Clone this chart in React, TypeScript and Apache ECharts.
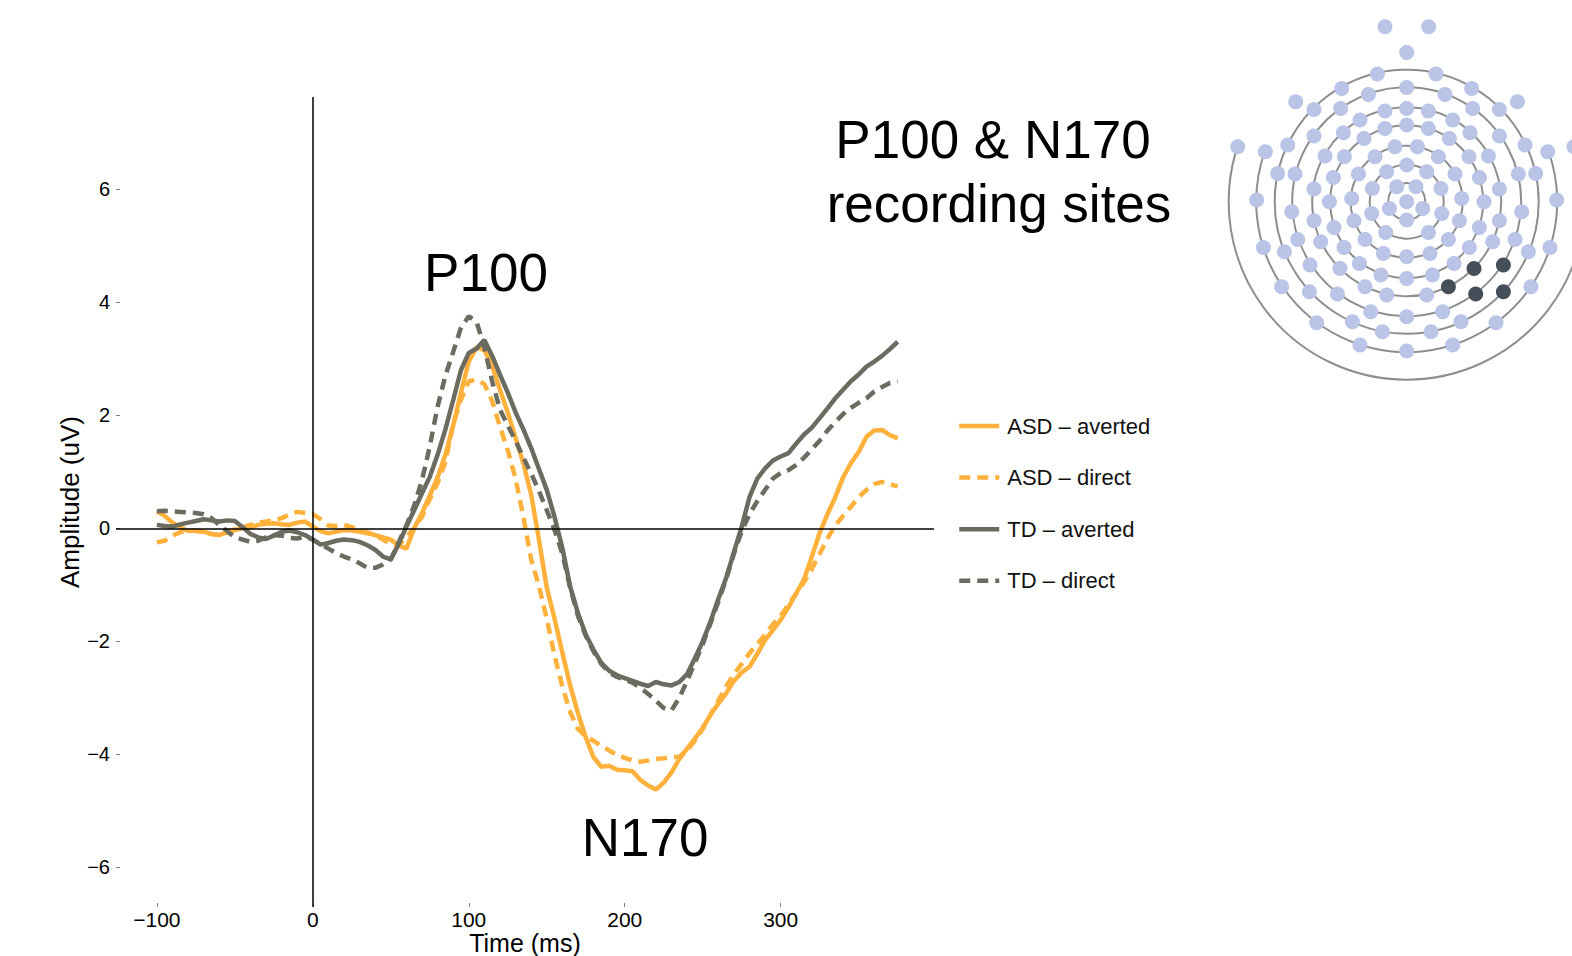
import React, { useEffect, useRef } from 'react';
import * as echarts from 'echarts';

// ---------- DATA ----------
const times = [
  -100, -95, -90, -85, -80, -75, -70, -65, -60, -55, -50, -45, -40, -35, -30, -25, -20, -15, -10, -5,
  0, 5, 10, 15, 20, 25, 30, 35, 40, 45, 50, 55, 60, 65, 70, 75, 80, 85, 90, 95,
  100, 105, 110, 115, 120, 125, 130, 135, 140, 145, 150, 155, 160, 165, 170, 175, 180, 185, 190, 195,
  200, 205, 210, 215, 220, 225, 230, 235, 240, 245, 250, 255, 260, 265, 270, 275, 280, 285, 290, 295,
  300, 305, 310, 315, 320, 325, 330, 335, 340, 345, 350, 355, 360, 365, 370, 375,
];

const asdAverted = [
  0.30, 0.22, 0.10, 0.02, -0.05, -0.04, -0.06, -0.10, -0.12, -0.07, -0.03, 0.00, 0.02, 0.06, 0.08, 0.09, 0.07, 0.06, 0.10, 0.12,
  0.03, -0.05, -0.09, -0.06, -0.03, -0.04, -0.06, -0.09, -0.12, -0.16, -0.20, -0.30, -0.36, 0.00, 0.27, 0.58, 0.90, 1.30, 1.82, 2.40,
  2.95, 3.20, 3.15, 2.88, 2.45, 2.05, 1.60, 1.15, 0.60, -0.20, -1.05, -1.60, -2.20, -2.78, -3.27, -3.70, -4.05, -4.22, -4.20, -4.27,
  -4.28, -4.30, -4.45, -4.55, -4.62, -4.50, -4.32, -4.08, -3.90, -3.72, -3.53, -3.30, -3.10, -2.92, -2.70, -2.55, -2.45, -2.22, -1.98, -1.80,
  -1.62, -1.40, -1.15, -0.90, -0.50, -0.08, 0.25, 0.55, 0.90, 1.15, 1.35, 1.62, 1.73, 1.74, 1.65, 1.59,
];

const asdDirect = [
  -0.25, -0.22, -0.13, -0.07, -0.04, -0.05, -0.07, -0.10, -0.12, -0.07, -0.02, 0.02, 0.06, 0.10, 0.12, 0.14, 0.18, 0.24, 0.29, 0.27,
  0.25, 0.16, 0.05, 0.04, 0.06, 0.02, -0.03, -0.07, -0.12, -0.20, -0.28, -0.30, -0.15, 0.00, 0.20, 0.52, 0.80, 1.17, 1.85, 2.27,
  2.60, 2.63, 2.55, 2.25, 1.80, 1.38, 0.88, 0.20, -0.55, -1.02, -1.60, -2.25, -2.80, -3.25, -3.55, -3.68, -3.76, -3.85, -3.93, -4.01,
  -4.06, -4.11, -4.13, -4.11, -4.08, -4.07, -4.05, -4.04, -3.93, -3.76, -3.55, -3.30, -3.05, -2.80, -2.58, -2.40, -2.21, -2.05, -1.88, -1.70,
  -1.55, -1.35, -1.15, -0.95, -0.72, -0.45, -0.18, 0.05, 0.22, 0.38, 0.55, 0.68, 0.78, 0.82, 0.78, 0.74,
];

const tdAverted = [
  0.06, 0.04, 0.03, 0.07, 0.10, 0.13, 0.16, 0.14, 0.12, 0.14, 0.13, 0.02, -0.10, -0.16, -0.19, -0.13, -0.06, -0.04, -0.07, -0.12,
  -0.20, -0.29, -0.26, -0.22, -0.20, -0.21, -0.24, -0.30, -0.38, -0.50, -0.55, -0.28, 0.03, 0.32, 0.62, 0.91, 1.30, 1.75, 2.27, 2.80,
  3.10, 3.18, 3.33, 3.05, 2.72, 2.40, 2.05, 1.75, 1.42, 1.05, 0.68, 0.20, -0.35, -1.03, -1.50, -1.88, -2.15, -2.38, -2.52, -2.60,
  -2.65, -2.70, -2.75, -2.79, -2.72, -2.76, -2.78, -2.72, -2.58, -2.30, -2.00, -1.65, -1.25, -0.88, -0.42, 0.03, 0.55, 0.88, 1.06, 1.20,
  1.27, 1.33, 1.50, 1.66, 1.78, 1.95, 2.12, 2.30, 2.45, 2.60, 2.72, 2.86, 2.95, 3.05, 3.17, 3.30,
];

const tdDirect = [
  0.30, 0.31, 0.30, 0.29, 0.28, 0.27, 0.25, 0.18, 0.06, -0.05, -0.16, -0.20, -0.24, -0.22, -0.16, -0.12, -0.13, -0.17, -0.18, -0.15,
  -0.20, -0.28, -0.36, -0.44, -0.50, -0.55, -0.62, -0.70, -0.70, -0.64, -0.55, -0.25, 0.05, 0.40, 0.85, 1.45, 2.15, 2.70, 3.12, 3.55,
  3.75, 3.65, 3.20, 2.60, 2.10, 1.82, 1.55, 1.25, 0.97, 0.66, 0.32, -0.03, -0.45, -1.05, -1.55, -1.90, -2.18, -2.40, -2.55, -2.63,
  -2.68, -2.73, -2.82, -2.93, -3.05, -3.18, -3.22, -3.00, -2.70, -2.38, -2.05, -1.68, -1.30, -0.90, -0.45, -0.05, 0.25, 0.48, 0.68, 0.88,
  0.98, 1.03, 1.12, 1.25, 1.40, 1.55, 1.73, 1.88, 2.02, 2.13, 2.22, 2.30, 2.42, 2.50, 2.57, 2.60,
];

const seriesNames = ['ASD – averted', 'ASD – direct', 'TD – averted', 'TD – direct'];
const xTicks = [-100, 0, 100, 200, 300];
const yTicks = [-6, -4, -2, 0, 2, 4, 6];

// electrode positions relative to head centre (px, screen y down)
const electrodeXY = [
  [-21.7, -175], [22, -175], [0, -149.3], [-29.3, -127.7], [29.3, -127.7], [-65, -113.3], [65, -113.3],
  [0, -114.3], [-38.3, -107.3], [38.3, -107.3], [-111, -100], [110.7, -100], [-92.7, -92.3], [92.7, -92.3],
  [-66, -93.3], [66, -93.3], [-21.7, -90.7], [21.7, -90.7], [0, -93.3], [-46.7, -81.7], [46, -81.7],
  [-21.7, -73.3], [21.7, -73.3], [0, -76.7], [-63.3, -69], [63.3, -69], [-92.7, -65.7], [92.7, -65.7],
  [-42.7, -63.3], [42.7, -63.3], [-169, -55], [167.3, -55], [-141.3, -50], [141, -50], [-119, -56.7], [118.3, -56.7],
  [-81.7, -45.7], [81.7, -45.7], [-62.3, -45], [62.3, -45], [-11.7, -55], [10.7, -55], [-31.7, -45], [31.7, -45],
  [0, -36.7], [-20, -30], [20, -30], [-129, -28.3], [129, -28.3], [-111.7, -27.7], [111.7, -27.7],
  [-73.3, -24.3], [72.7, -24.3], [-48.3, -27.7], [48.3, -27.7], [-92.7, -12.7], [92.7, -12.7],
  [-34.3, -13.3], [34.3, -13.3], [-10, -15], [9.3, -15], [-150, -1.7], [150, -1.7], [-115, 10], [115, 10],
  [-77.3, 0], [77.3, 0], [-55, -3.3], [55, -3.3], [-17.3, 6.7], [16, 6.7], [0, 0], [-35, 11.7], [35, 11.7],
  [-92.7, 19], [92.7, 19], [-72.7, 25.7], [72.7, 25.7], [-52.7, 19], [52.7, 19], [0, 18.3], [-21, 30.7], [21.7, 30.7],
  [-143.3, 45.7], [143.3, 45.7], [-109, 37.7], [108.3, 37.7], [-86, 40], [86, 40], [-62.7, 45.7], [62.7, 45.7],
  [-41.7, 37.7], [41.7, 37.7], [-122.3, 50], [121.7, 50], [-23.3, 51.7], [23.3, 51.7], [0, 55],
  [-96.7, 63.3], [-66.7, 66.7], [-47.3, 61.7], [47.3, 61.7], [-25.7, 73.3], [25.7, 73.3], [0, 76.7],
  [-125, 85], [124.3, 85], [-97.3, 90], [-69.3, 92.3], [-41.7, 85], [-20, 93.3], [20, 93.3],
  [-36, 110], [36, 110], [0, 115], [-90, 121], [89.3, 121], [-54.3, 120], [54.3, 120],
  [-24.3, 130], [24.3, 130], [-46.7, 143.3], [46, 143.3], [0, 149.3],
];
const siteXY = [[96.7, 63.3], [67.3, 66.7], [96.7, 90], [69, 92.3], [41.7, 85]];
const ringRadii = [18.5, 37, 56, 76.5, 94.5, 114.5, 132];
const openArcs = [
  { r: 150.5, start: -20, end: 200 },
  { r: 178, start: -16, end: 196 },
];

// ---------- STYLE ----------
const FONT = "'Liberation Sans', Arial, Helvetica, sans-serif";
const ORANGE = '#FFB13B';
const GRAY = '#6B6B60';
const HX = 1406.7;
const HY = 201.7;
const HR = 160;

export default function App() {
  const ref = useRef<HTMLDivElement>(null);

  useEffect(() => {
    document.body.style.margin = '0';
    const chart = echarts.init(ref.current as HTMLDivElement, null, { renderer: 'svg' });
    const pair = (arr: number[]) => times.map((t, i) => [t, arr[i]]);
    const dash = [11, 7];
    const fmt = (v: number) => String(v).replace('-', '\u2212');

    const mkLine = (name: string, data: number[], color: string, dashed: boolean, extra: any = {}) => ({
      name,
      type: 'line',
      xAxisIndex: 0,
      yAxisIndex: 0,
      data: pair(data),
      showSymbol: false,
      symbol: 'none',
      silent: true,
      emphasis: { disabled: true },
      itemStyle: { color },
      lineStyle: { color, width: 4.5, type: dashed ? dash : 'solid', cap: 'butt' },
      z: 3,
      ...extra,
    });

    const graphics: any[] = [];
    ringRadii.forEach((r) => {
      graphics.push({
        type: 'circle',
        shape: { cx: HX, cy: HY, r },
        style: { fill: 'none', stroke: '#8E8E8E', lineWidth: 2 },
        silent: true,
        z: 0,
      });
    });
    openArcs.forEach((a) => {
      graphics.push({
        type: 'arc',
        shape: { cx: HX, cy: HY, r: a.r, startAngle: (a.start * Math.PI) / 180, endAngle: (a.end * Math.PI) / 180, clockwise: true },
        style: { fill: 'none', stroke: '#8E8E8E', lineWidth: 2 },
        silent: true,
        z: 0,
      });
    });
    const txt = (text: string, x: number, y: number, size: number) => ({
      type: 'text',
      x,
      y,
      silent: true,
      style: {
        text,
        fontSize: size,
        fontFamily: FONT,
        fill: '#000',
        textAlign: 'center',
        textVerticalAlign: 'middle',
        align: 'center',
        verticalAlign: 'middle',
      },
    });
    graphics.push(txt('P100', 486, 272, 53));
    graphics.push(txt('N170', 645, 837, 53));
    graphics.push(txt('P100 & N170', 993, 139, 53));
    graphics.push(txt('recording sites', 999, 203, 53));

    chart.setOption({
      animation: false,
      backgroundColor: '#fff',
      textStyle: { fontFamily: FONT },
      grid: [
        { left: 116, top: 97, width: 818, height: 810, containLabel: false, outerBoundsMode: 'none' },
        { left: HX - HR, top: HY - 200, width: HR * 2, height: 400, containLabel: false, outerBoundsMode: 'none' },
      ],
      xAxis: [
        {
          type: 'value',
          gridIndex: 0,
          min: -126.2,
          max: 398.3,
          axisLine: { show: false, onZero: false },
          splitLine: { show: false },
          axisTick: {
            show: true,
            inside: true,
            length: 4,
            customValues: xTicks,
            lineStyle: { color: '#808080', width: 1 },
          },
          axisLabel: {
            customValues: xTicks,
            formatter: fmt,
            fontSize: 21,
            color: '#000',
            margin: 2,
            fontFamily: FONT,
          },
          name: 'Time (ms)',
          nameLocation: 'middle',
          nameGap: 23,
          nameMoveOverlap: false,
          nameTextStyle: { fontSize: 25, lineHeight: 25, color: '#000', fontFamily: FONT },
        },
        { type: 'value', gridIndex: 1, min: -HR, max: HR, show: false },
      ],
      yAxis: [
        {
          type: 'value',
          gridIndex: 0,
          min: -6.7,
          max: 7.63,
          axisLine: { show: false, onZero: false },
          splitLine: { show: false },
          axisTick: {
            show: true,
            inside: true,
            length: 4,
            customValues: yTicks,
            lineStyle: { color: '#808080', width: 1 },
          },
          axisLabel: {
            customValues: yTicks,
            formatter: fmt,
            fontSize: 20,
            color: '#000',
            margin: 6,
            fontFamily: FONT,
          },
          name: 'Amplitude (uV)',
          nameLocation: 'middle',
          nameRotate: 90,
          nameGap: 33,
          nameMoveOverlap: false,
          nameTextStyle: { fontSize: 26, color: '#000', fontFamily: FONT },
        },
        { type: 'value', gridIndex: 1, min: -200, max: 200, inverse: true, show: false },
      ],
      legend: {
        orient: 'vertical',
        left: 957,
        top: 414,
        padding: 0,
        itemWidth: 40,
        itemHeight: 14,
        itemGap: 27.6,
        selectedMode: false,
        data: seriesNames,
        itemStyle: { opacity: 0, borderWidth: 0 },
        lineStyle: { width: 4.5 },
        textStyle: { fontSize: 22, fontFamily: FONT, color: '#111', lineHeight: 24, padding: [0, 0, 0, 3] },
      },
      graphic: graphics,
      series: [
        mkLine(seriesNames[0], asdAverted, ORANGE, false),
        mkLine(seriesNames[1], asdDirect, ORANGE, true),
        mkLine(seriesNames[2], tdAverted, GRAY, false),
        mkLine(seriesNames[3], tdDirect, GRAY, true, {
          markLine: {
            silent: true,
            symbol: ['none', 'none'],
            label: { show: false },
            emphasis: { disabled: true },
            lineStyle: { color: '#000', width: 1.5, type: 'solid' },
            data: [{ yAxis: 0 }, { xAxis: 0 }],
          },
        }),
        {
          type: 'scatter',
          xAxisIndex: 1,
          yAxisIndex: 1,
          data: electrodeXY,
          symbolSize: 15,
          silent: true,
          clip: false,
          itemStyle: { color: '#B9C4E6', opacity: 1 },
          z: 4,
        },
        {
          type: 'scatter',
          xAxisIndex: 1,
          yAxisIndex: 1,
          data: siteXY,
          symbolSize: 15,
          silent: true,
          clip: false,
          itemStyle: { color: '#454F59', opacity: 1 },
          z: 5,
        },
      ],
    });

    return () => chart.dispose();
  }, []);

  return <div ref={ref} style={{ width: 1572, height: 956 }} />;
}
